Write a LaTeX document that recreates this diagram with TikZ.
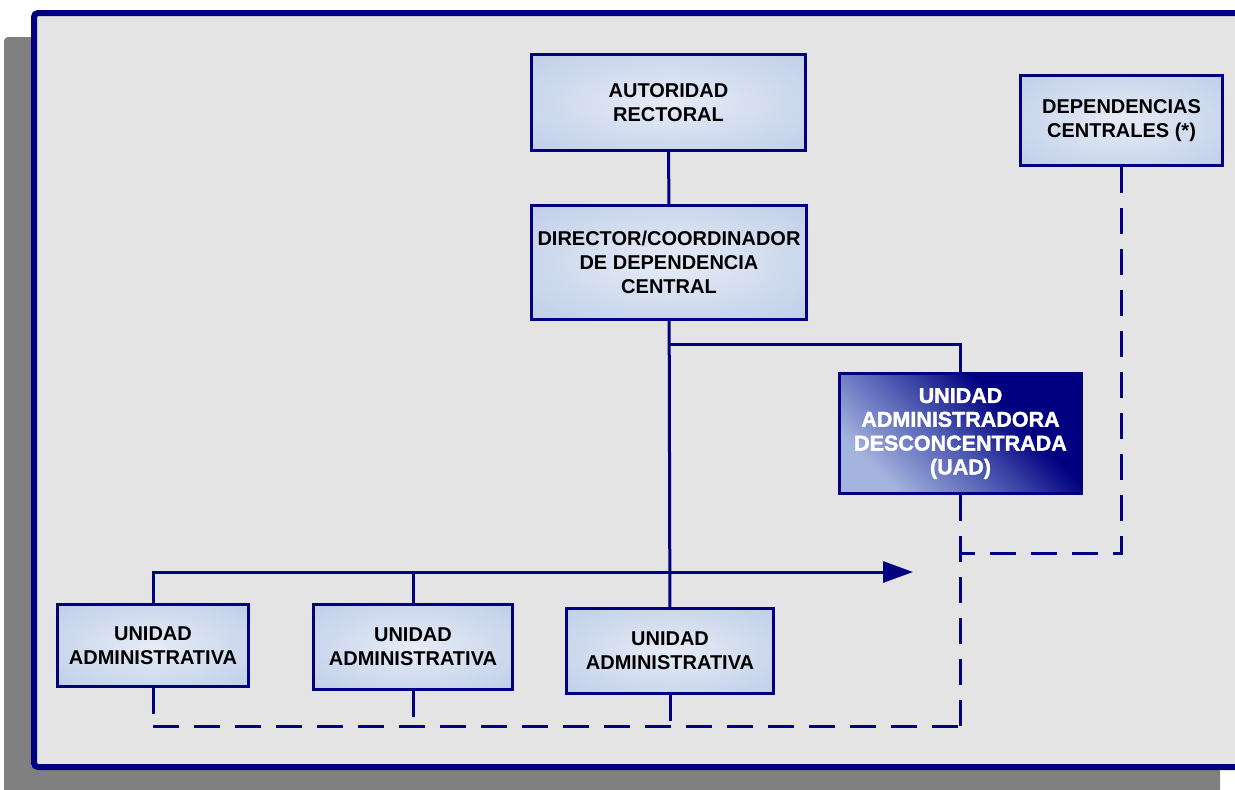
\documentclass[tikz,border=0pt]{standalone}
\usepackage{fontspec}
\setmainfont{Liberation Sans}
\newfontfamily\uadfont[FakeBold=1.6]{Liberation Sans Bold}
\usepackage{xcolor}
\usepackage{tikz}
\usetikzlibrary{arrows.meta,positioning}

\definecolor{navyline}{RGB}{0,0,128}
\definecolor{boxinner}{RGB}{230,236,247}
\definecolor{boxmid}{RGB}{208,219,238}
\definecolor{boxouter}{RGB}{180,198,228}
\definecolor{uadlight}{RGB}{165,180,222}
\definecolor{uadmid}{RGB}{80,92,178}
\definecolor{framefill}{RGB}{228,228,228}
\definecolor{shadowgray}{RGB}{128,128,128}

\pgfdeclareradialshading{blockshade}{\pgfpoint{0bp}{0bp}}{color(0bp)=(boxinner); color(20bp)=(boxmid); color(46bp)=(boxouter); color(72bp)=(boxouter)}
\pgfdeclarehorizontalshading{uadshade}{100bp}{color(0bp)=(uadlight); color(26bp)=(uadlight); color(46bp)=(uadmid); color(64bp)=(navyline); color(100bp)=(navyline)}

\begin{document}
\begin{tikzpicture}[x=0.5pt, y=-0.5pt]
    % Styles
    \tikzstyle{block} = [rectangle, draw=navyline, line width=1.5pt, shade, shading=blockshade, align=center, inner sep=0pt, font=\fontsize{10}{12}\selectfont\bfseries]
    \tikzstyle{uadblock} = [block, shading=uadshade, shading angle=45, text=white, font=\fontsize{10.75}{11.9}\selectfont\uadfont]
    \tikzstyle{line} = [draw=navyline, line width=1.5pt]
    \tikzstyle{arrow} = [line, -{Triangle[length=15pt,width=10.5pt]}]
    \tikzstyle{dashline} = [line, dash pattern=on 13pt off 7.5pt]

    % Frame and shadow
    \clip (0,0) rectangle (1235,789);
    \fill[shadowgray, rounded corners=2pt] (4,37) rectangle (1220,800);
    \draw[navyline, line width=3pt, fill=framefill, rounded corners=2pt] (34,13) rectangle (1250,767);

    % Nodes - top
    \node [block, minimum width=137pt, minimum height=48pt] (autoridad) at (668.5,102.5) {AUTORIDAD\\RECTORAL};
    \node [block, minimum width=137.5pt, minimum height=57pt] (director) at (669,262.5) {DIRECTOR/COORDINADOR\\DE DEPENDENCIA\\CENTRAL};
    \node [block, minimum width=101pt, minimum height=45pt] (dependencias) at (1121.5,120.5) {DEPENDENCIAS\\CENTRALES (*)};
    \node [uadblock, minimum width=121pt, minimum height=60pt] (uad) at (960.5,433.5) {UNIDAD\\ADMINISTRADORA\\DESCONCENTRADA\\(UAD)};

    % Nodes - administrative units
    \node [block, minimum width=95.5pt, minimum height=41pt] (unidad1) at (153,645.5) {UNIDAD\\ADMINISTRATIVA};
    \node [block, minimum width=99.5pt, minimum height=42.5pt] (unidad2) at (413,647) {UNIDAD\\ADMINISTRATIVA};
    \node [block, minimum width=103.5pt, minimum height=42.5pt] (unidad3) at (670,651) {UNIDAD\\ADMINISTRATIVA};

    % Corner points
    \coordinate (split) at (669,344);
    \coordinate (busend) at (913,572);
    \coordinate (basecorner) at (960.5,726);
    \coordinate (linkcorner) at (960.5,553);

    % Solid connectors
    \draw[line] (autoridad) -- (director);
    \draw[line] (director) -- (unidad3);
    \draw[line] (split) -| (uad);
    \draw[arrow] (unidad1) |- (busend);
    \draw[line] (unidad2) -- (unidad2 |- busend);

    % Dashed connectors
    \draw[dashline] (uad) -- (basecorner);
    \draw[dashline] (unidad1 |- basecorner) -- (basecorner);
    \draw[dashline] (unidad1) -- (unidad1 |- basecorner);
    \draw[dashline] (unidad2) -- (unidad2 |- basecorner);
    \draw[dashline] (unidad3) -- (unidad3 |- basecorner);
    \draw[dashline] (dependencias) |- (linkcorner);
\end{tikzpicture}
\end{document}
